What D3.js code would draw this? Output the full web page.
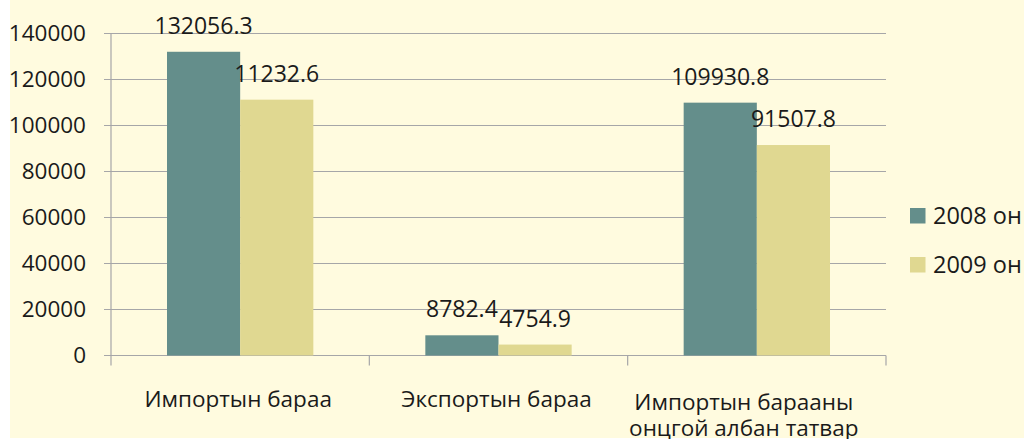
<!DOCTYPE html>
<html>
<head>
<meta charset="utf-8">
<script src="https://cdn.jsdelivr.net/npm/d3@7"></script>
<style>
  html, body { margin: 0; padding: 0; background: #fff; }
  svg { display: block; font-family: 'Open Sans', 'Noto Sans', sans-serif; }
</style>
</head>
<body>
<svg id="chart" width="1024" height="439"></svg>
<script>
const categories = ['Импортын бараа', 'Экспортын бараа', 'Импортын барааны|онцгой албан татвар'];
const series = ['2008 он', '2009 он'];
const values2008 = [132056.3, 8782.4, 109930.8];
const values2009 = [111232.6, 4754.9, 91507.8];
const labels2008 = ['132056.3', '8782.4', '109930.8'];
const labels2009 = ['11232.6', '4754.9', '91507.8'];
const yTicks = [0, 20000, 40000, 60000, 80000, 100000, 120000, 140000];
const colors = ['#648e8b', '#e0d891'];

const svg = d3.select('#chart');

// cream plot background
svg.append('rect')
  .attr('x', 10).attr('y', 0)
  .attr('width', 1014).attr('height', 438)
  .attr('fill', '#fffbdf');

const plotLeft = 111;
const plotRight = 886;
const plotTop = 33.5;
const plotBottom = 355.5;

const x = d3.scaleBand().domain(categories).range([plotLeft, plotRight]).paddingInner(0).paddingOuter(0);
const inner = d3.scaleBand().domain(series).range([56, x.bandwidth() - 56]);
const y = d3.scaleLinear().domain([0, 140000]).range([plotBottom, plotTop]);

// gridlines + y labels
const yg = svg.append('g').attr('id', 'yaxis');
yg.selectAll('line')
  .data(yTicks)
  .enter()
  .append('line')
  .attr('x1', 104)
  .attr('x2', plotRight)
  .attr('y1', (d) => y(d))
  .attr('y2', (d) => y(d))
  .attr('stroke', '#a6a6a8')
  .attr('stroke-width', 1.2);

yg.selectAll('text')
  .data(yTicks)
  .enter()
  .append('text')
  .attr('x', 86)
  .attr('y', (d) => y(d))
  .attr('dy', '0.35em')
  .attr('text-anchor', 'end')
  .attr('font-size', 22.5)
  .attr('fill', '#1a1a1a')
  .text((d) => d);

// axis lines
svg.append('line')
  .attr('x1', plotLeft).attr('x2', plotLeft)
  .attr('y1', plotTop).attr('y2', plotBottom + 10)
  .attr('stroke', '#a6a6a8').attr('stroke-width', 1.2);

const xg = svg.append('g').attr('id', 'xaxis');
xg.selectAll('line')
  .data(categories)
  .enter()
  .append('line')
  .attr('x1', (d) => x(d) + x.step())
  .attr('x2', (d) => x(d) + x.step())
  .attr('y1', plotBottom)
  .attr('y2', plotBottom + 10)
  .attr('stroke', '#a6a6a8')
  .attr('stroke-width', 1.2);

// bars
const rows = categories.map((c, i) => ({
  cat: c,
  items: [
    { s: series[0], v: values2008[i], label: labels2008[i] },
    { s: series[1], v: values2009[i], label: labels2009[i] },
  ],
}));

const groups = svg.append('g').attr('id', 'bars')
  .selectAll('g.bar-group')
  .data(rows)
  .enter()
  .append('g')
  .attr('class', 'bar-group')
  .attr('transform', (d) => `translate(${x(d.cat)},0)`);

groups.selectAll('rect')
  .data((d) => d.items)
  .enter()
  .append('rect')
  .attr('x', (d) => inner(d.s))
  .attr('y', (d) => y(d.v))
  .attr('width', inner.bandwidth())
  .attr('height', (d) => plotBottom - y(d.v))
  .attr('fill', (d, i) => colors[i]);

groups.selectAll('text')
  .data((d) => d.items)
  .enter()
  .append('text')
  .attr('x', (d) => inner(d.s) + inner.bandwidth() / 2)
  .attr('y', (d) => y(d.v) - 18)
  .attr('text-anchor', 'middle')
  .attr('font-size', 23)
  .attr('fill', '#1a1a1a')
  .text((d) => d.label);

// category labels, one text per line
const catLines = [];
categories.forEach((c) => {
  const parts = c.split('|');
  parts.forEach((l, i) => {
    catLines.push({ cat: c, text: l, line: i, wrapped: parts.length > 1 });
  });
});

svg.append('g').attr('id', 'catlabels')
  .selectAll('text')
  .data(catLines)
  .enter()
  .append('text')
  .attr('x', (d) => x(d.cat) + x.bandwidth() / 2 - (d.wrapped ? 13 : 2))
  .attr('y', (d) => (d.wrapped ? 410 + d.line * 26 : 407))
  .attr('text-anchor', 'middle')
  .attr('font-size', 22.5)
  .attr('fill', '#1a1a1a')
  .text((d) => d.text);

// legend
const legend = svg.append('g').attr('id', 'legend')
  .selectAll('g')
  .data(series)
  .enter()
  .append('g')
  .attr('transform', (d, i) => `translate(910,${208 + i * 49})`);

legend.append('rect')
  .attr('width', 15.5)
  .attr('height', 15.5)
  .attr('fill', (d, i) => colors[i]);

legend.append('text')
  .attr('x', 23)
  .attr('y', 8)
  .attr('dy', '0.35em')
  .attr('font-size', 23.5)
  .attr('fill', '#1a1a1a')
  .text((d) => d);
</script>
</body>
</html>
